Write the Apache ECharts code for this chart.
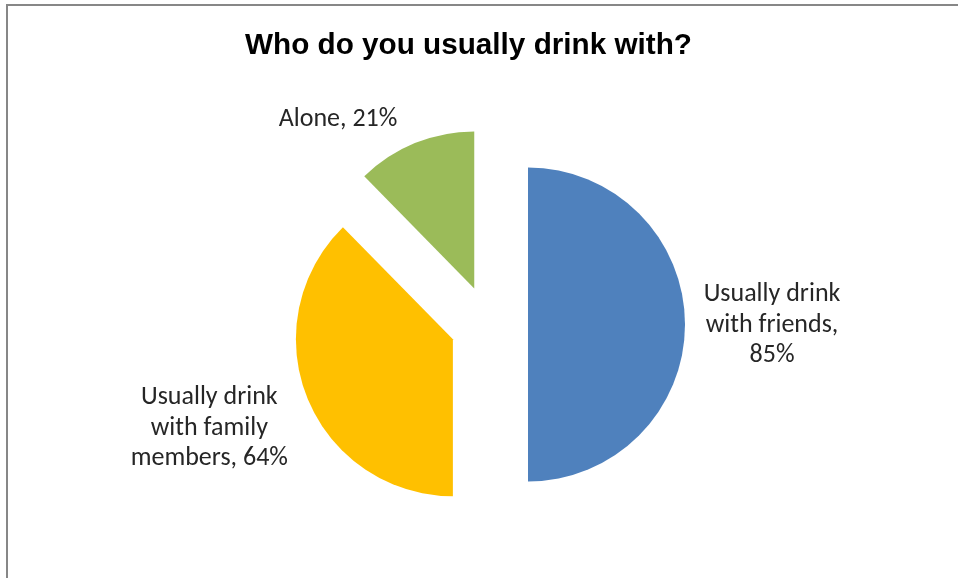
<!DOCTYPE html>
<html>
<head>
<meta charset="utf-8">
<script src="https://cdn.jsdelivr.net/npm/echarts@6/dist/echarts.min.js"></script>
<style>
  html, body { margin: 0; padding: 0; background: #ffffff; overflow: hidden; }
  #chart { position: absolute; left: 0; top: 0; width: 958px; height: 578px; }
  #frame { position: absolute; left: 6px; top: 4px; width: 2000px; height: 2000px;
           border-top: 2px solid #878787; border-left: 2px solid #878787; pointer-events: none; }
</style>
</head>
<body>
<div id="chart"></div>
<div id="frame"></div>
<script>
// ---- data ----
const categories = ['Usually drink\nwith friends', 'Usually drink\nwith family\nmembers', 'Alone'];
const values = [85, 64, 21];
const valueSeparators = [',\n', ', ', ', '];
const colors = ['#4F81BD', '#FFC000', '#9BBB59'];
const titleText = 'Who do you usually drink with?';

// label nudges relative to ECharts' own outside label anchor (style only)
const labelNudge = [
  { dx: 62, dy: 0.5 },
  { dx: -74, dy: 26 },
  { dx: -58, dy: -14 }
];

const chart = echarts.init(document.getElementById('chart'), null, { renderer: 'canvas' });

const labelFont = 'Carlito, Lato, "Open Sans", sans-serif';

chart.setOption({
  animation: false,
  backgroundColor: '#ffffff',
  title: {
    text: titleText,
    left: 240,
    top: 26,
    padding: 5,
    textStyle: {
      fontFamily: '"Liberation Sans", Arial, sans-serif',
      fontWeight: 'bold',
      fontSize: 29.7,
      color: '#000000'
    }
  },
  series: [{
    type: 'pie',
    center: [489, 324.5],
    radius: 157,
    startAngle: 90,
    clockwise: true,
    selectedMode: 'multiple',
    selectedOffset: 39,
    avoidLabelOverlap: false,
    emphasis: { disabled: true, scale: false },
    itemStyle: { borderWidth: 0 },
    label: {
      show: true,
      position: 'outside',
      distanceToLabelLine: 5,
      formatter: function (p) {
        const txt = p.name + valueSeparators[p.dataIndex] + p.value + '%';
        return txt.split('\n').map(function (s) { return '{c|' + s + '}'; }).join('\n');
      },
      rich: {
        c: {
          align: 'center',
          fontFamily: labelFont,
          fontSize: 26,
          lineHeight: 30.5,
          color: '#262626'
        }
      }
    },
    labelLine: { show: false, length: 10, length2: 10 },
    labelLayout: function (params) {
      const n = labelNudge[params.dataIndex];
      return { dx: n.dx, dy: n.dy, align: 'center', verticalAlign: 'middle' };
    },
    data: categories.map(function (name, i) {
      return { name: name, value: values[i], selected: true, itemStyle: { color: colors[i] } };
    })
  }]
});
</script>
</body>
</html>
